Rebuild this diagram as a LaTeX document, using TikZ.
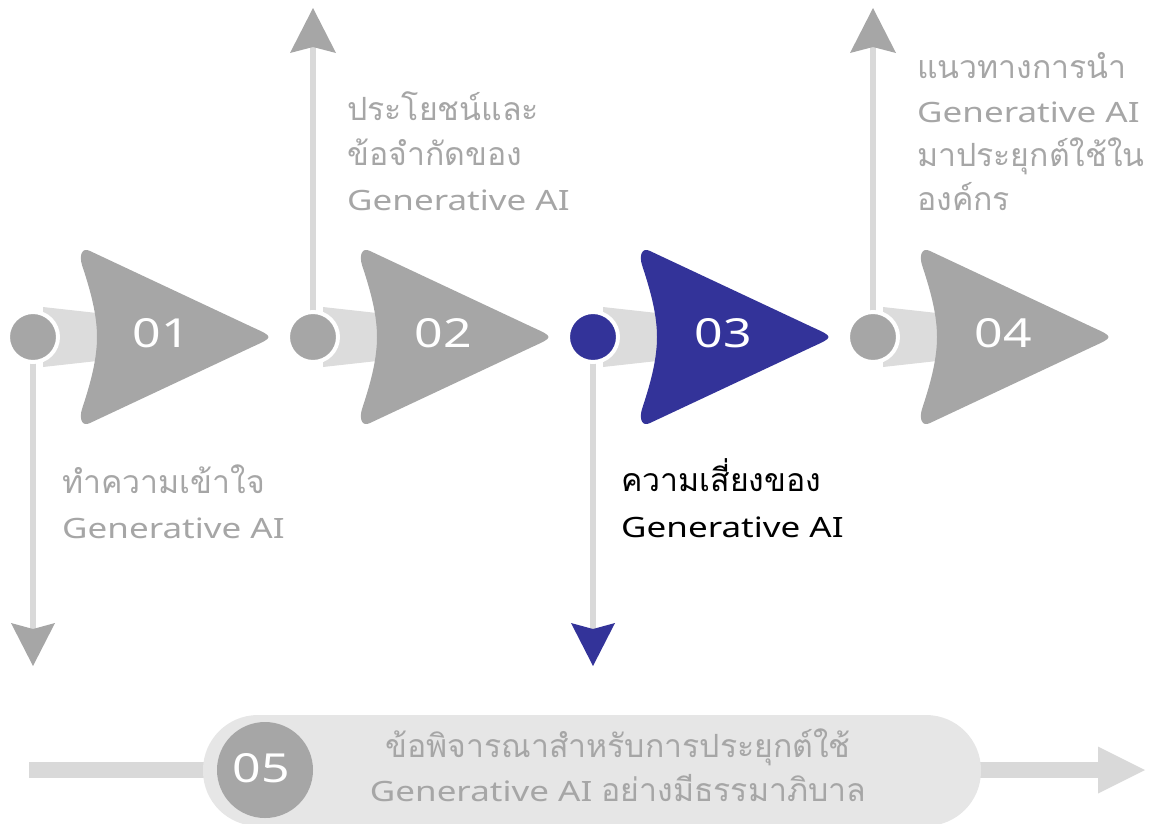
\documentclass[tikz,border=0pt]{standalone}
\usepackage{fontspec}
\usetikzlibrary{arrows.meta,backgrounds}
\newfontfamily\latf{Noto Sans}[FakeStretch=1.25]
\newfontfamily\thaif[Script=Thai]{Loma}
\definecolor{dgray}{HTML}{A6A6A6}
\definecolor{lgray}{HTML}{D9D9D9}
\definecolor{fgray}{HTML}{DCDCDC}
\definecolor{pgray}{HTML}{E6E6E6}
\definecolor{tgray}{HTML}{A6A6A6}
\definecolor{navy}{HTML}{333399}
\tikzset{
  lbl/.style={inner sep=0pt, anchor=base west, text=tgray},
  lblc/.style={inner sep=0pt, anchor=base, text=tgray},
  num/.style={inner sep=0pt, text=white, font=\latf\fontsize{40}{40}\selectfont},
  dot/.style={circle, draw=white, line width=4pt, minimum size=50pt, inner sep=0pt},
  vline/.style={draw=lgray, line width=6pt},
  uptip/.style={-{Stealth[length=45pt, width=46pt, inset=6pt, line width=0pt, color=#1]}},
  dntip/.style={-{Stealth[length=43pt, width=44pt, inset=6pt, line width=0pt, color=#1]}},
}
\newcommand{\latxt}[1]{{\latf\fontsize{28}{45}\selectfont #1}}
\newcommand{\thtxt}[1]{{\thaif\fontsize{32}{45}\selectfont #1}}
\newcommand{\stepshape}[2]{%
  \begin{scope}[shift={(#1,337)}]
    \fill[fgray] (-39,-30) -- (15,-24) -- (15,24) -- (-39,30) -- cycle;
    \fill[#2] (8,-86) -- (170,-10) .. controls (192,0) .. (170,10) -- (8,86)
      .. controls (0,90) and (-3,82) .. (0,72)
      .. controls (10,42) and (15,20) .. (15,0)
      .. controls (15,-20) and (10,-42) .. (0,-72)
      .. controls (-3,-82) and (0,-90) .. (8,-86) -- cycle;
  \end{scope}}
\begin{document}
\begin{tikzpicture}[x=1pt,y=-1pt]
\useasboundingbox (0,0) rectangle (1149,823);
\clip (0,0) rectangle (1149,823);
% arrow shapes with funnels
\stepshape{82}{dgray}
\stepshape{362}{dgray}
\stepshape{642}{navy}
\stepshape{922}{dgray}
% circles
\node[dot, fill=dgray] (c1) at (33,337) {};
\node[dot, fill=dgray] (c2) at (313,337) {};
\node[dot, fill=navy] (c3) at (593,337) {};
\node[dot, fill=dgray] (c4) at (873,337) {};
% numbers
\node[num] (n1) at (161,333) {01};
\node[num] (n2) at (443,333) {02};
\node[num] (n3) at (723,333) {03};
\node[num] (n4) at (1003,333) {04};
% free ends
\coordinate (e1) at (33,666);
\coordinate (e2) at (313,8);
\coordinate (e3) at (593,666);
\coordinate (e4) at (873,8);
\coordinate (b0) at (29,770);
\coordinate (b1) at (1145,770);
\begin{pgfonlayer}{background}
  \draw[vline, dntip=dgray] (c1.center) -- (e1);
  \draw[vline, uptip=dgray] (c2.center) -- (e2);
  \draw[vline, dntip=navy] (c3.center) -- (e3);
  \draw[vline, uptip=dgray] (c4.center) -- (e4);
  \draw[draw=lgray, line width=16pt, -{Triangle[length=47pt, width=47pt, line width=0pt, color=lgray]}] (b0) -- (b1);
\end{pgfonlayer}
% bottom pill
\fill[pgray, rounded corners=55pt] (203,715) rectangle (981,826);
\node[circle, fill=dgray, minimum size=96pt, inner sep=0pt] (c5) at (265,770) {};
\node[num] (n5) at (261,768) {05};
% labels
\node[lbl] (t1a) at (62,493) {\thtxt{ทำความเข้าใจ}};
\node[lbl] (t1b) at (62,538) {\latxt{Generative AI}};
\node[lbl] (t2a) at (347,120) {\thtxt{ประโยชน์และ}};
\node[lbl] (t2b) at (347,165) {\thtxt{ข้อจำกัดของ}};
\node[lbl] (t2c) at (347,210) {\latxt{Generative AI}};
\node[lbl, text=black] (t3a) at (621,491) {\thtxt{ความเสี่ยงของ}};
\node[lbl, text=black] (t3b) at (621,537) {\latxt{Generative AI}};
\node[lbl] (t4a) at (917,78) {\thtxt{แนวทางการนำ}};
\node[lbl] (t4b) at (917,122) {\latxt{Generative AI}};
\node[lbl] (t4c) at (917,166) {\thtxt{มาประยุกต์ใช้ใน}};
\node[lbl] (t4d) at (917,210) {\thtxt{องค์กร}};
\node[lblc] (t5a) at (618,757) {\thtxt{ข้อพิจารณาสำหรับการประยุกต์ใช้}};
\node[lblc] (t5b) at (618,801) {\latxt{Generative AI }\thtxt{อย่างมีธรรมาภิบาล}};
\end{tikzpicture}
\end{document}
